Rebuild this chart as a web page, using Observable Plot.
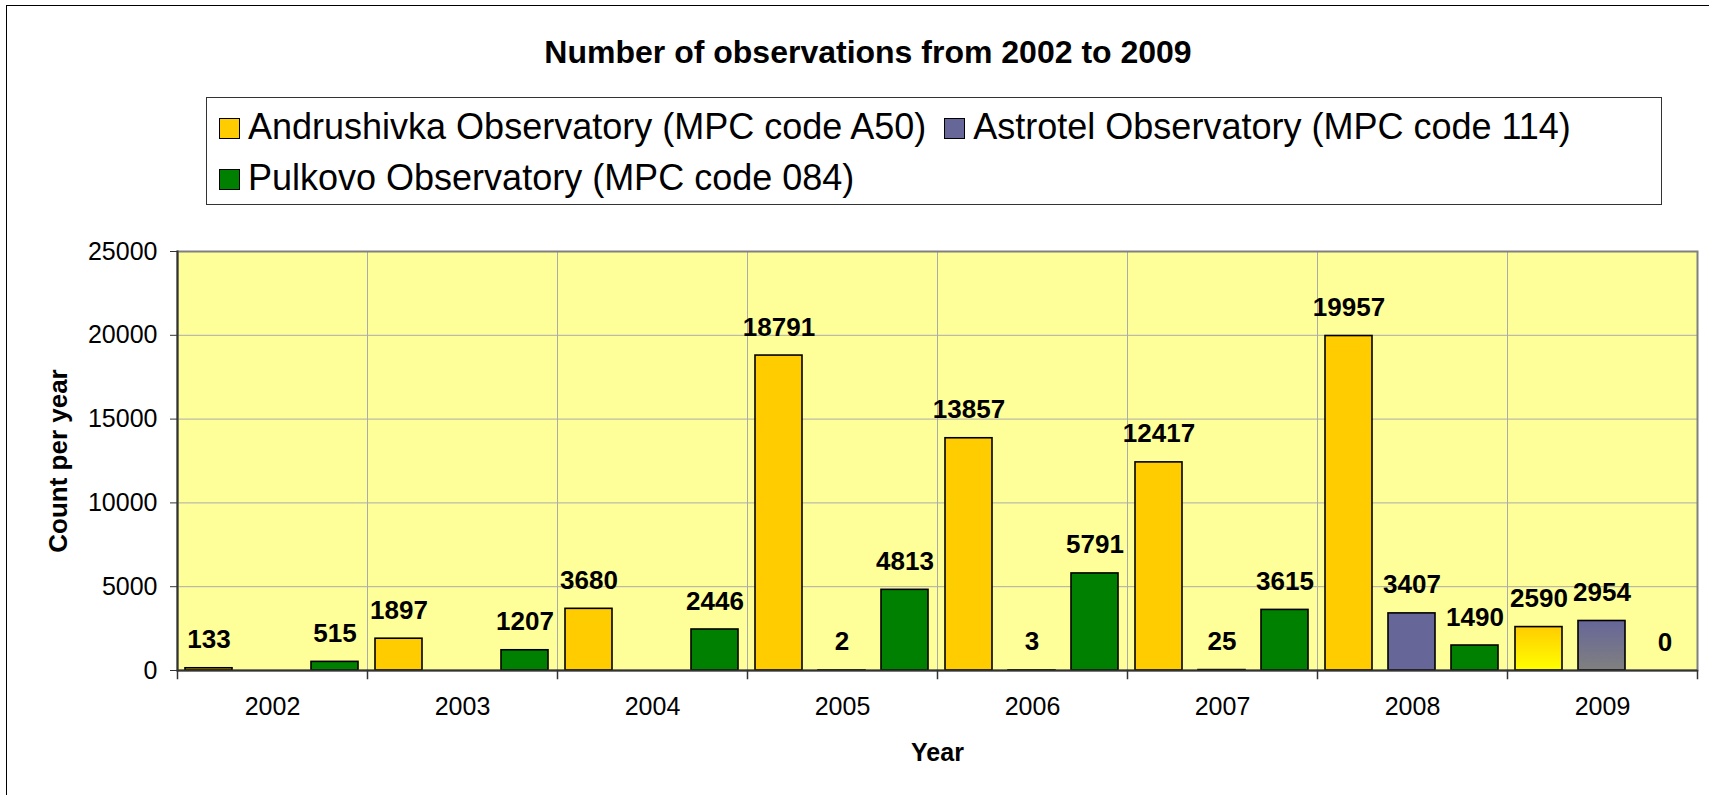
<!DOCTYPE html>
<html>
<head>
<meta charset="utf-8">
<script src="https://cdn.jsdelivr.net/npm/d3@7"></script>
<script src="https://cdn.jsdelivr.net/npm/@observablehq/plot@0.6"></script>
<style>
  html, body { margin: 0; padding: 0; background: #fff; }
  #chart { position: relative; width: 1709px; height: 795px; overflow: hidden; background: #fff;
           font-family: "Liberation Sans", Arial, Helvetica, sans-serif; color: #000; }
  #outer { position: absolute; left: 6px; top: 5px; width: 1740px; height: 840px; border: 1.5px solid #000; }
  #title { position: absolute; left: 368px; width: 1000px; top: 36px; text-align: center;
           font-size: 32px; line-height: 32px; font-weight: bold; white-space: nowrap; }
  #legend { position: absolute; left: 206px; top: 97px; width: 1454px; height: 106px;
            border: 1px solid #333; background: #fff; }
  .row { position: absolute; left: 12px; height: 36px; line-height: 36px; font-size: 36px; white-space: nowrap; }
  .item { display: inline-block; margin-right: 18px; }
  .swatch { display: inline-block; width: 19px; height: 19px; border: 1px solid #000; margin-right: 8px;
            vertical-align: baseline; }
  #plot { position: absolute; left: 0; top: 200px; }
</style>
</head>
<body>
<div id="chart">
  <div id="outer"></div>
  <div id="title">Number of observations from 2002 to 2009</div>
  <div id="legend"></div>
  <div id="plot"></div>
</div>
<script>
// Observations per year for each observatory
const years = [2002, 2003, 2004, 2005, 2006, 2007, 2008, 2009];
const seriesNames = [
  "Andrushivka Observatory (MPC code A50)",
  "Astrotel Observatory (MPC code 114)",
  "Pulkovo Observatory (MPC code 084)"
];
const andrushivka = [133, 1897, 3680, 18791, 13857, 12417, 19957, 2590];
const astrotel = [null, null, null, 2, 3, 25, 3407, 2954];
const pulkovo = [515, 1207, 2446, 4813, 5791, 3615, 1490, 0];
const seriesColors = ["#FFCC00", "#666699", "#008000"];
// 2009 bars are shaded with a vertical gradient (top colour, bottom colour)
const gradientStops = [["#FFCC00", "#FFFF00"], ["#666699", "#808080"], ["#008000", "#008000"]];
const gradientYear = 2009;
const yTicks = [0, 5000, 10000, 15000, 20000, 25000];
const legendRows = [[0, 1], [2]];

const seriesValues = [andrushivka, astrotel, pulkovo];
const rows = years.flatMap((year, i) =>
  seriesValues.map((vals, s) => ({year, s, series: seriesNames[s], value: vals[i]}))
).filter(d => d.value != null);

// Legend
const legend = document.getElementById("legend");
const rowTops = [11, 62];
legendRows.forEach((items, r) => {
  const row = document.createElement("div");
  row.className = "row";
  row.style.top = rowTops[r] + "px";
  items.forEach(s => {
    const item = document.createElement("span");
    item.className = "item";
    const sw = document.createElement("span");
    sw.className = "swatch";
    sw.style.background = seriesColors[s];
    item.appendChild(sw);
    item.appendChild(document.createTextNode(seriesNames[s]));
    row.appendChild(item);
  });
  legend.appendChild(row);
});

// Chart
const W = 1709, H = 595;
const mL = 173, mR = 9, mT = 51, mB = 125;
const plotH = H - mT - mB;
const bg = "#FFFF99", grid = "#ABABAB", border = "#808080", axis = "#333333";

const fillOf = d => d.year === gradientYear ? `url(#grad${d.s})` : seriesColors[d.s];

const svg = Plot.plot({
  width: W, height: H,
  marginLeft: mL, marginRight: mR, marginTop: mT, marginBottom: mB,
  style: {fontFamily: "'Liberation Sans', Arial, sans-serif", fontSize: "25px", color: "#000", background: "transparent", overflow: "visible"},
  fx: {domain: years, padding: 0, label: null},
  x: {domain: seriesNames, paddingInner: 0.25, paddingOuter: 0.12, axis: null},
  y: {domain: [0, 25000], label: null},
  color: {type: "identity"},
  marks: [
    Plot.frame({fill: bg, stroke: null}),
    Plot.gridY(yTicks, {stroke: grid, strokeOpacity: 1}),
    Plot.frame({anchor: "left", stroke: grid, strokeOpacity: 1}),
    Plot.frame({facet: "super", stroke: border, strokeWidth: 2}),
    Plot.barY(rows, {fx: "year", x: "series", y: "value", fill: fillOf, stroke: "#000", strokeWidth: 1.6}),
    Plot.ruleY([0], {stroke: axis, strokeWidth: 2}),
    Plot.frame({facet: "super", anchor: "left", stroke: axis, strokeWidth: 2}),
    // category separators extending below the axis
    Plot.frame({anchor: "left", stroke: axis, strokeWidth: 1.5, insetTop: plotH, insetBottom: -8}),
    Plot.frame({facet: "super", anchor: "right", stroke: axis, strokeWidth: 1.5, insetTop: plotH, insetBottom: -8}),
    Plot.axisY(yTicks, {tickSize: 7, tickPadding: 13, stroke: axis, label: null, tickFormat: d => String(d)}),
    Plot.axisFx({anchor: "bottom", tickSize: 0, tickPadding: 27, label: null, tickFormat: d => String(d)}),
    Plot.text(rows, {fx: "year", x: "series", y: "value", text: d => String(d.value),
      dy: -20, lineAnchor: "bottom", fontWeight: "bold", fontSize: 26}),
    Plot.text(["Count per year"], {facet: "super", frameAnchor: "left", text: d => d, rotate: -90,
      textAnchor: "middle", lineAnchor: "middle", dx: -119, fontWeight: "bold", fontSize: 26}),
    Plot.text(["Year"], {facet: "super", frameAnchor: "bottom", text: d => d, textAnchor: "middle",
      lineAnchor: "bottom", dy: 90, fontWeight: "bold", fontSize: 25})
  ]
});

const defs = d3.select(svg).insert("defs", ":first-child");
gradientStops.forEach(([top, bottom], s) => {
  const g = defs.append("linearGradient").attr("id", `grad${s}`)
    .attr("x1", 0).attr("y1", 0).attr("x2", 0).attr("y2", 1);
  g.append("stop").attr("offset", "0%").attr("stop-color", top);
  g.append("stop").attr("offset", "100%").attr("stop-color", bottom);
});

document.getElementById("plot").appendChild(svg);
</script>
</body>
</html>
